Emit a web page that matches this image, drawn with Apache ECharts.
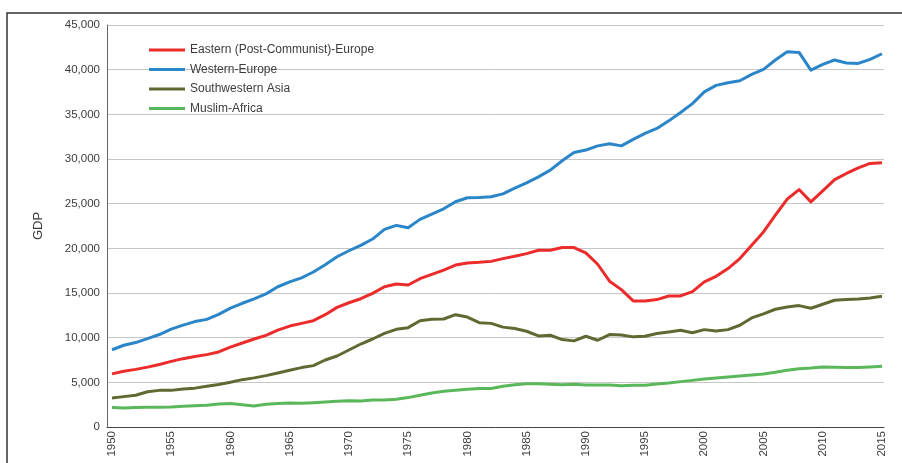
<!DOCTYPE html>
<html>
<head>
<meta charset="utf-8">
<script src="https://cdn.jsdelivr.net/npm/echarts@6/dist/echarts.min.js"></script>
<style>
  html, body { margin: 0; padding: 0; background: #fff; }
  #main { width: 902px; height: 463px; }
</style>
</head>
<body>
<div id="main"></div>
<script>
var years = [1950, 1951, 1952, 1953, 1954, 1955, 1956, 1957, 1958, 1959,
  1960, 1961, 1962, 1963, 1964, 1965, 1966, 1967, 1968, 1969,
  1970, 1971, 1972, 1973, 1974, 1975, 1976, 1977, 1978, 1979,
  1980, 1981, 1982, 1983, 1984, 1985, 1986, 1987, 1988, 1989,
  1990, 1991, 1992, 1993, 1994, 1995, 1996, 1997, 1998, 1999,
  2000, 2001, 2002, 2003, 2004, 2005, 2006, 2007, 2008, 2009,
  2010, 2011, 2012, 2013, 2014, 2015];

var easternEurope = [5950, 6250, 6450, 6700, 7000, 7350, 7650, 7900, 8100, 8400,
  8950, 9400, 9850, 10250, 10850, 11300, 11600, 11900, 12570, 13390,
  13910, 14360, 14960, 15700, 16000, 15890, 16600, 17090, 17570, 18130,
  18350, 18430, 18540, 18850, 19120, 19410, 19790, 19790, 20090, 20090,
  19490, 18220, 16320, 15380, 14110, 14110, 14260, 14670, 14670, 15150,
  16240, 16870, 17730, 18850, 20350, 21840, 23710, 25500, 26580, 25200,
  26430, 27700, 28380, 29010, 29500, 29570];

var westernEurope = [8650, 9150, 9450, 9900, 10350, 10950, 11400, 11800, 12050, 12600,
  13300, 13850, 14350, 14900, 15700, 16250, 16700, 17350, 18170, 19060,
  19730, 20330, 21040, 22120, 22570, 22300, 23240, 23840, 24430, 25220,
  25660, 25700, 25770, 26100, 26730, 27330, 28000, 28750, 29800, 30730,
  31000, 31470, 31700, 31470, 32190, 32860, 33420, 34270, 35210, 36200,
  37520, 38240, 38540, 38760, 39470, 40030, 41080, 42000, 41930, 39950,
  40590, 41080, 40740, 40700, 41150, 41780];

var southwesternAsia = [3250, 3400, 3550, 3950, 4100, 4100, 4250, 4350, 4550, 4750,
  5000, 5300, 5500, 5750, 6050, 6350, 6650, 6870, 7500, 7950,
  8620, 9290, 9850, 10480, 10930, 11120, 11900, 12050, 12090, 12570,
  12310, 11680, 11600, 11180, 11020, 10720, 10200, 10270, 9790, 9640,
  10160, 9710, 10350, 10310, 10090, 10160, 10460, 10640, 10830, 10550,
  10900, 10750, 10900, 11390, 12210, 12660, 13180, 13440, 13590, 13290,
  13740, 14190, 14260, 14340, 14450, 14640];

var muslimAfrica = [2170, 2130, 2170, 2200, 2200, 2240, 2310, 2390, 2430, 2580,
  2620, 2500, 2350, 2540, 2620, 2700, 2660, 2720, 2800, 2870,
  2950, 2910, 3030, 3030, 3100, 3290, 3550, 3810, 4000, 4110,
  4220, 4300, 4300, 4570, 4740, 4850, 4850, 4780, 4740, 4780,
  4700, 4700, 4700, 4630, 4670, 4670, 4810, 4930, 5080, 5220,
  5380, 5490, 5600, 5710, 5820, 5940, 6120, 6350, 6530, 6610,
  6720, 6680, 6650, 6650, 6720, 6790];

var yearLabels = [1950, 1955, 1960, 1965, 1970, 1975, 1980, 1985, 1990, 1995, 2000, 2005, 2010, 2015];

var seriesNames = ["Eastern (Post-Communist)-Europe", "Western-Europe", "Southwestern Asia", "Muslim-Africa"];
var seriesColors = ["#ec2b2b", "#2a86c9", "#5f6a33", "#5bb85a"];

var font = "'Liberation Sans', Arial, sans-serif";
var textColor = "#3c3c3c";

function pairs(values) {
  return years.map(function (y, i) { return [y, values[i]]; });
}

var chart = echarts.init(document.getElementById("main"));

var option = {
  animation: false,
  backgroundColor: "#fff",
  textStyle: { fontFamily: font },
  graphic: [{
    type: "rect",
    shape: { x: 7, y: 13, width: 1000, height: 1000 },
    style: { fill: "none", stroke: "#333", lineWidth: 1.5 },
    silent: true
  }],
  grid: { left: 107, right: 18, top: 25, bottom: 36 },
  legend: {
    orient: "vertical",
    left: 149,
    top: 42,
    padding: 0,
    icon: "rect",
    itemWidth: 36,
    itemHeight: 3,
    itemGap: 3.5,
    textStyle: { fontFamily: font, fontSize: 12, color: textColor, lineHeight: 16 },
    data: seriesNames
  },
  xAxis: {
    type: "value",
    min: 1949.58,
    max: 2015.17,
    axisLine: { show: true, lineStyle: { color: "#444", width: 1 } },
    axisTick: { show: false },
    splitLine: { show: false },
    axisLabel: {
      customValues: yearLabels,
      rotate: 90,
      margin: 4,
      fontFamily: font,
      fontSize: 11.5,
      color: textColor,
      formatter: function (v) { return String(v); }
    }
  },
  yAxis: {
    type: "value",
    min: 0,
    max: 45000,
    interval: 5000,
    name: "GDP",
    nameLocation: "middle",
    nameGap: 62,
    nameTextStyle: { fontFamily: font, fontSize: 13, color: textColor },
    axisLine: { show: true, lineStyle: { color: "#666", width: 1 } },
    axisTick: { show: false },
    splitLine: { lineStyle: { color: "#c6c6c6", width: 1 } },
    axisLabel: {
      margin: 7,
      fontFamily: font,
      fontSize: 11.5,
      color: textColor,
      formatter: function (v) { return v.toLocaleString("en-US"); }
    }
  },
  series: [
    { name: seriesNames[0], data: pairs(easternEurope) },
    { name: seriesNames[1], data: pairs(westernEurope) },
    { name: seriesNames[2], data: pairs(southwesternAsia) },
    { name: seriesNames[3], data: pairs(muslimAfrica) }
  ].map(function (s, i) {
    return {
      name: s.name,
      type: "line",
      data: s.data,
      showSymbol: false,
      symbol: "none",
      color: seriesColors[i],
      lineStyle: { color: seriesColors[i], width: 3, join: "round" }
    };
  })
};

chart.setOption(option);
</script>
</body>
</html>
